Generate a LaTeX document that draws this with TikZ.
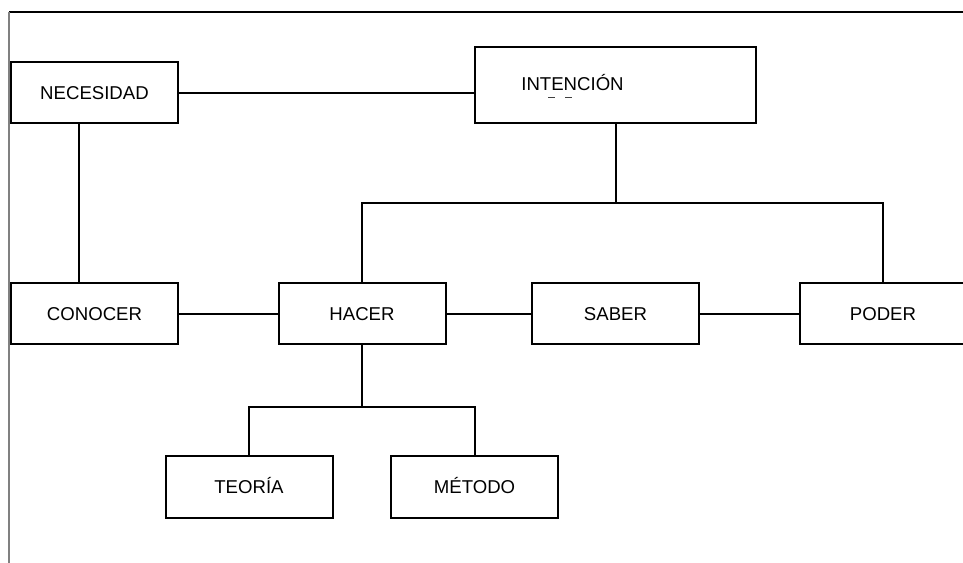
\documentclass[tikz,border=0pt]{standalone}
\usepackage{fontspec}
\setmainfont{Liberation Sans}
\begin{document}
\begin{tikzpicture}[x=1pt,y=-1pt,
  conceptbox/.style={draw=black, line width=2pt, rectangle, inner sep=0pt,
    minimum width=167pt, minimum height=61pt,
    font=\fontsize{18.6}{20}\selectfont, text height=13.3pt, text depth=0pt},
  link/.style={draw=black, line width=2pt},
  frameline/.style={line width=1.1pt}]
  \clip (0,0) rectangle (963,562);
  \fill[white] (0,0) rectangle (963,562);

  % page frame
  \draw[frameline, black] (9,12) -- (970,12);
  \draw[frameline, black!50] (9,12) -- (9,570);

  % concept boxes
  \node[conceptbox] (nec) at (94.5,92.5) {NECESIDAD};
  \node[conceptbox, minimum width=281pt, minimum height=76pt] (int) at (615.5,85) {};
  \node[font=\fontsize{18.6}{20}\selectfont, anchor=base, inner sep=0pt] (intlabel) at (572.5,90) {INTENCIÓN};
  \node[conceptbox] (con) at (94.5,313.5) {CONOCER};
  \node[conceptbox] (hac) at (362,313.5) {HACER};
  \node[conceptbox] (sab) at (615.5,313.5) {SABER};
  \node[conceptbox] (pod) at (883,313.5) {PODER};
  \node[conceptbox, minimum height=62pt] (teo) at (249,487) {TEORÍA};
  \node[conceptbox, minimum height=62pt] (met) at (474.5,487) {MÉTODO};

  % small stray marks below the INTENCIÓN label
  \draw[line width=1pt, black!75] (548,97) -- (555,97);
  \draw[line width=1pt, black!75] (565,97) -- (572,97);

  % junction points
  \coordinate (j1) at (615.5,203);
  \coordinate (j2) at (362,407);

  % connectors
  \draw[link] (nec.east) -- (int.west |- nec.east);
  \draw[link] ([xshift=-15.5pt]nec.south) -- ([xshift=-15.5pt]con.north);
  \draw[link] (int.south) -- (j1);
  \draw[link] (hac.north) |- (j1) -| (pod.north);
  \draw[link] (con.east) -- (hac.west);
  \draw[link] (hac.east) -- (sab.west);
  \draw[link] (sab.east) -- (pod.west);
  \draw[link] (hac.south) -- (j2);
  \draw[link] (teo.north) |- (j2) -| (met.north);
\end{tikzpicture}
\end{document}
